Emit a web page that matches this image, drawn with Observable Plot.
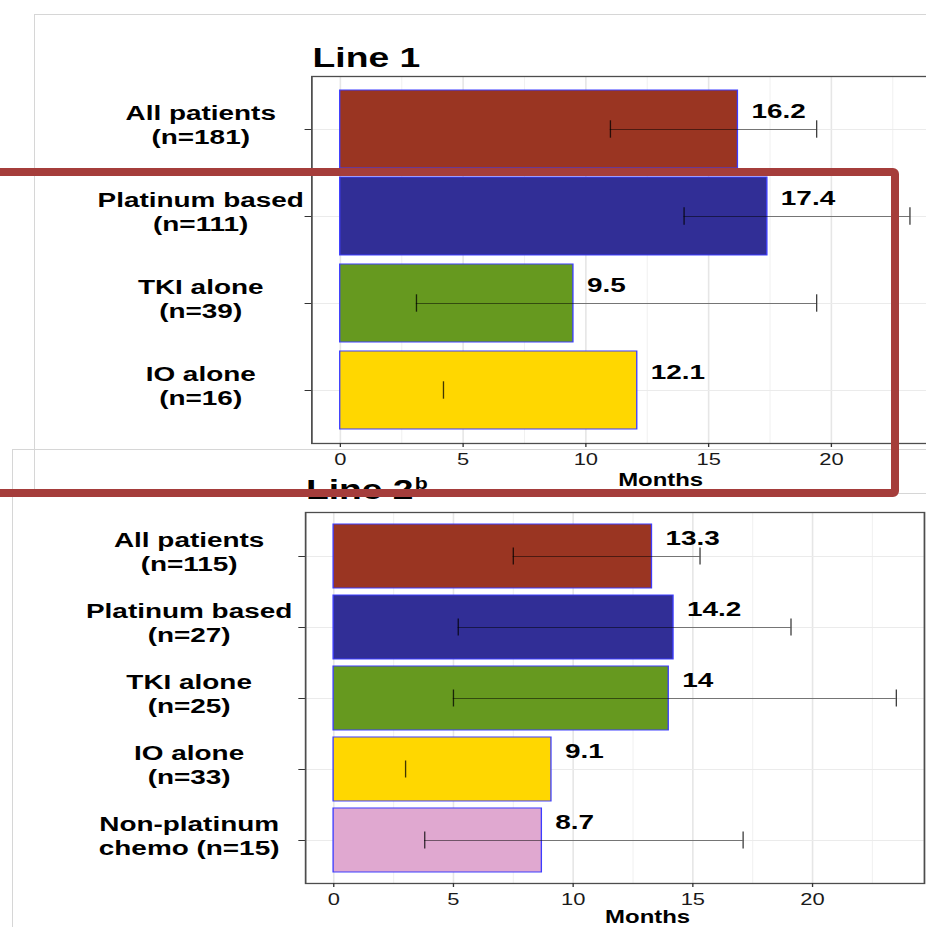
<!DOCTYPE html>
<html>
<head>
<meta charset="utf-8">
<script src="https://cdn.jsdelivr.net/npm/d3@7"></script>
<script src="https://cdn.jsdelivr.net/npm/@observablehq/plot@0.6"></script>
<style>
  html, body { margin: 0; padding: 0; background: #fff; }
  #page { position: relative; width: 926px; height: 927px; overflow: hidden; background: #fff;
          font-family: "Liberation Sans", Arial, sans-serif; }
  /* the whole figure is drawn at a horizontal stretch */
  #stretch { position: absolute; left: 0; top: 0; width: 700px; height: 927px;
             transform: scaleX(1.33); transform-origin: 0 0; }
  .panel { position: absolute; left: 0; }
  .title { position: absolute; font-weight: bold; font-size: 28px; line-height: 28px; color: #000; white-space: nowrap; }
  .title .sup { font-size: 16px; position: relative; top: -10px; margin-left: 1px; }
  .box { position: absolute; border: 0 solid #d6d6d6; }
  #highlight { position: absolute; left: -20px; top: 168px; width: 919px; height: 329px;
               border: 8px solid #a53d3b; border-radius: 6px; box-sizing: border-box; }
</style>
</head>
<body>
<div id="page">
  <div class="box" style="left:34px;top:14px;width:960px;height:478px;border-top-width:1.5px;border-left-width:1.5px;border-bottom-width:1.5px"></div>
  <div class="box" style="left:12px;top:449px;width:960px;height:520px;border-top-width:1.5px;border-left-width:1.5px"></div>
  <div id="stretch">
    <div class="panel" id="panel1" style="top:0px"></div>
    <div class="panel" id="panel2" style="top:440px"></div>
    <div class="title" style="left:235px;top:44px">Line 1</div>
    <div class="title" style="left:230px;top:476px">Line 2<span class="sup">b</span></div>
  </div>
  <div id="highlight"></div>
</div>
<script>
// Median duration (months) with confidence limits, by treatment line and regimen
const line1Groups = ["All patients\n(n=181)", "Platinum based\n(n=111)", "TKI alone\n(n=39)", "IO alone\n(n=16)"];
const line1Median = [16.2, 17.4, 9.5, 12.1];
const line1Lower = [11.0, 14.0, 3.1, 4.2];
const line1Upper = [19.4, 23.2, 19.4, null];

const line2Groups = ["All patients\n(n=115)", "Platinum based\n(n=27)", "TKI alone\n(n=25)", "IO alone\n(n=33)", "Non-platinum\nchemo (n=15)"];
const line2Median = [13.3, 14.2, 14, 9.1, 8.7];
const line2Lower = [7.5, 5.2, 5.0, 3.0, 3.8];
const line2Upper = [15.3, 19.1, 23.5, null, 17.1];

const groupColors = ["#9a3522", "#312e96", "#66991f", "#ffd700", "#e0a8d0"];
const majorTicks = [0, 5, 10, 15, 20];
const minorTicks = [2.5, 7.5, 12.5, 17.5, 22.5];
const axisTitle = "Months";

const FONT = '"Liberation Sans", Arial, sans-serif';

function panel({groups, median, lower, upper, marginLeft, pxPerMonth, height, marginTop, marginBottom,
                labelDx, capInset, titleDx, titleDy}) {
  const rows = groups.map((g, i) => ({group: g, median: median[i], lower: lower[i], upper: upper[i], color: groupColors[i]}));
  const spans = rows.filter(r => r.lower != null && r.upper != null);
  const caps = rows.flatMap(r => [r.lower, r.upper].filter(v => v != null).map(v => ({group: r.group, value: v})));
  const xMax = d3.max(rows, r => Math.max(r.median, r.lower ?? 0, r.upper ?? 0));
  const pad = 0.05 * xMax;
  const marginRight = 2;
  const width = marginLeft + (xMax + 2 * pad) * pxPerMonth + marginRight;
  return Plot.plot({
    width, height, marginLeft, marginRight, marginTop, marginBottom,
    style: {background: "transparent", fontFamily: FONT, color: "#1a1a1a", maxWidth: "none", overflow: "visible"},
    x: {domain: [-pad, xMax + pad], label: null},
    y: {domain: groups, paddingInner: 0.1, paddingOuter: 0.15, label: null},
    color: {type: "identity"},
    marks: [
      Plot.gridX({ticks: minorTicks, stroke: "#f1f1f1", strokeOpacity: 1, strokeWidth: 0.8}),
      Plot.gridX({ticks: majorTicks, stroke: "#e6e6e6", strokeOpacity: 1, strokeWidth: 1.2}),
      Plot.gridY({stroke: "#ebebeb", strokeOpacity: 1, strokeWidth: 1}),
      Plot.barX(rows, {y: "group", x: "median", fill: "color", stroke: "#3d3dff", strokeWidth: 1}),
      Plot.ruleY(spans, {y: "group", x1: "lower", x2: "upper", stroke: "#000", strokeOpacity: 0.5, strokeWidth: 1}),
      Plot.tickX(caps, {x: "value", y: "group", stroke: "#000", strokeOpacity: 0.75, strokeWidth: 1,
                        insetTop: capInset, insetBottom: capInset}),
      Plot.text(rows, {x: "median", y: "group", text: d => String(d.median), textAnchor: "start",
                       dx: 10, dy: -18, fontSize: 21, fontWeight: "bold", fill: "#000"}),
      Plot.text(rows, {y: "group", text: "group", frameAnchor: "left", textAnchor: "middle", dx: labelDx, dy: -5,
                       fontSize: 21, fontWeight: "bold", lineHeight: 1.15, fill: "#000"}),
      Plot.frame({stroke: "#4d4d4d", strokeWidth: 1.3}),
      Plot.axisY({tickSize: 5, tickFormat: () => "", label: null, stroke: "#333"}),
      Plot.axisX({ticks: majorTicks, tickSize: 4, tickPadding: 6, fontSize: 16.5, label: null, stroke: "#333"}),
      Plot.text([axisTitle], {text: d => d, frameAnchor: "bottom", dx: titleDx, dy: titleDy,
                              fontSize: 18, fontWeight: "bold", fill: "#000"})
    ]
  });
}

document.getElementById("panel1").append(panel({
  groups: line1Groups, median: line1Median, lower: line1Lower, upper: line1Upper,
  marginLeft: 234, pxPerMonth: 18.46, height: 500, marginTop: 76, marginBottom: 57,
  labelDx: -83.6, capInset: 30.3, titleDx: 26.7, titleDy: 43
}));

document.getElementById("panel2").append(panel({
  groups: line2Groups, median: line2Median, lower: line2Lower, upper: line2Upper,
  marginLeft: 229.3, pxPerMonth: 18.0, height: 487, marginTop: 72, marginBottom: 44,
  labelDx: -87.6, capInset: 23.5, titleDx: 24.5, titleDy: 40
}));
</script>
</body>
</html>
